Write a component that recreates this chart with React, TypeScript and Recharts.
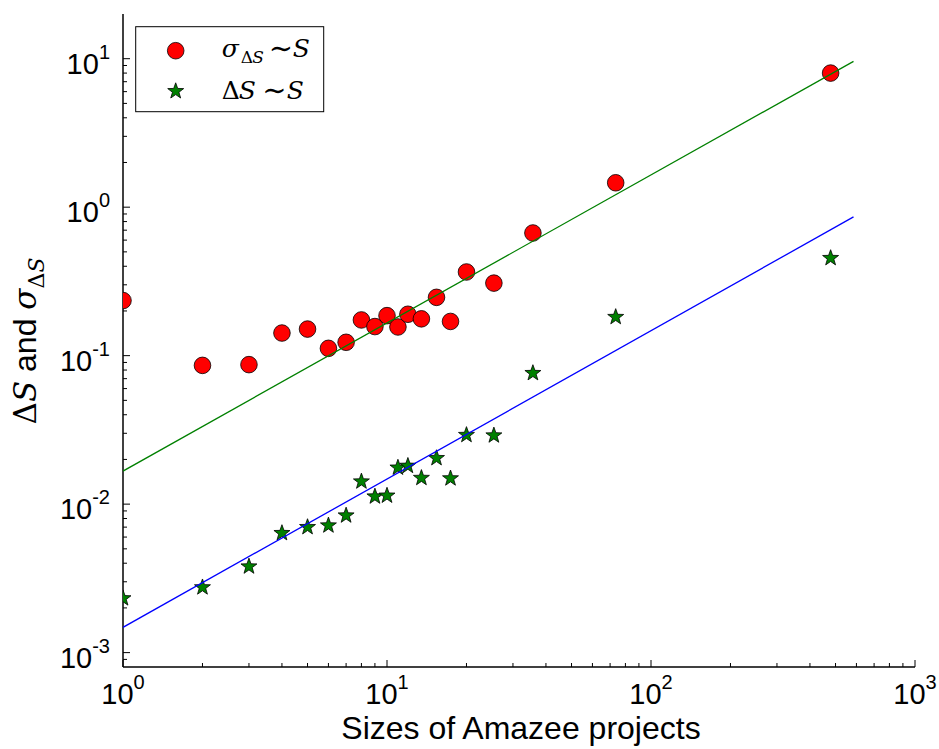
import { ComposedChart, Scatter, XAxis, YAxis } from 'recharts';

// project sizes (x) and the two measured quantities (y)
const sizes = [1, 2, 3, 4, 5, 6, 7, 8, 9, 10, 11, 12, 13.5, 15.4, 17.4, 20, 25.4, 35.7, 73.5, 479];
const sigmaDeltaS = [0.235, 0.086, 0.087, 0.142, 0.151, 0.112, 0.123, 0.174, 0.157, 0.186, 0.156, 0.19, 0.177, 0.247, 0.17, 0.366, 0.308, 0.67, 1.46, 8.0];
const deltaS = [0.00232, 0.00275, 0.0038, 0.00638, 0.007, 0.00718, 0.00838, 0.0142, 0.01125, 0.0114, 0.0176, 0.0181, 0.015, 0.0204, 0.0149, 0.0292, 0.029, 0.0763, 0.182, 0.454];

// fitted lines ~ S
const fitX = [1, 585];
const sigmaFit = [0.0167, 9.6];
const deltaFit = [0.00148, 0.86];

const xDecades = [1, 10, 100];
const yDecades = [0.0001, 0.001, 0.01, 0.1, 1, 10];
const mults = [1, 2, 3, 4, 5, 6, 7, 8, 9];

const X_DOMAIN: [number, number] = [1, 1000];
const Y_DOMAIN: [number, number] = [0.0008, 20];

const xTicks = [...xDecades.flatMap((d) => mults.map((m) => +(d * m).toPrecision(6))), 1000];
const yTicks = yDecades
  .flatMap((d) => mults.map((m) => +(d * m).toPrecision(6)))
  .filter((v) => v > Y_DOMAIN[0] && v < Y_DOMAIN[1]);

const sigmaData = sizes.map((s, i) => ({ x: s, y: sigmaDeltaS[i] }));
const deltaData = sizes.map((s, i) => ({ x: s, y: deltaS[i] }));
const sigmaFitData = fitX.map((s, i) => ({ x: s, y: sigmaFit[i] }));
const deltaFitData = fitX.map((s, i) => ({ x: s, y: deltaFit[i] }));

const sans = { fontFamily: 'Liberation Sans, Arial, sans-serif' };
const serif = { fontFamily: 'DejaVu Serif, serif' };
const serifIt = { fontFamily: 'DejaVu Serif, serif', fontStyle: 'italic' as const };

const RED = '#ff0000';
const GREEN = '#008000';
const BLUE = '#0000ff';

const exponent = (v: number) => Math.round(Math.log10(v));
const isMajor = (v: number) => Math.abs(Math.log10(v) - exponent(v)) < 1e-6;
const fmtExp = (v: number) => {
  const e = exponent(v);
  return e < 0 ? `-${-e}` : `${e}`;
};

function starPath(cx: number, cy: number, R: number, r: number) {
  let d = '';
  for (let i = 0; i < 10; i++) {
    const rad = i % 2 === 0 ? R : r;
    const a = -Math.PI / 2 + (i * Math.PI) / 5;
    d += `${i === 0 ? 'M' : 'L'}${(cx + rad * Math.cos(a)).toFixed(2)},${(cy + rad * Math.sin(a)).toFixed(2)}`;
  }
  return d + 'Z';
}

const Circle = ({ cx, cy }: any) => <circle cx={cx} cy={cy} r={8.3} fill={RED} stroke="#000" strokeWidth={0.8} />;
const Star = ({ cx, cy }: any) => <path d={starPath(cx, cy, 8.4, 3.4)} fill={GREEN} stroke="#000" strokeWidth={0.8} />;
const NoDot = () => <g />;

function BottomTick({ x, y, payload }: any) {
  const v = payload.value;
  const major = isMajor(v);
  return (
    <g>
      <line x1={x} x2={x} y1={y} y2={y - (major ? 7 : 4)} stroke="#000" strokeWidth={1} />
      {major && (
        <text x={x} y={y + 37} textAnchor="middle" style={sans} fontSize={29} fill="#000">
          10<tspan fontSize={20} dy={-15}>{fmtExp(v)}</tspan>
        </text>
      )}
    </g>
  );
}

function TopTick({ x, y, payload }: any) {
  const major = isMajor(payload.value);
  return <line x1={x} x2={x} y1={y} y2={y + (major ? 7 : 4)} stroke="#000" strokeWidth={1} />;
}

function LeftTick({ x, y, payload }: any) {
  const v = payload.value;
  const major = isMajor(v);
  return (
    <g>
      <line x1={x} x2={x + (major ? 7 : 4)} y1={y} y2={y} stroke="#000" strokeWidth={1} />
      {major && (
        <text x={x - 13} y={y + 15} textAnchor="end" style={sans} fontSize={29} fill="#000">
          10<tspan fontSize={20} dy={-15}>{fmtExp(v)}</tspan>
        </text>
      )}
    </g>
  );
}

function RightTick({ x, y, payload }: any) {
  const major = isMajor(payload.value);
  return <line x1={x} x2={x - (major ? 7 : 4)} y1={y} y2={y} stroke="#000" strokeWidth={1} />;
}

function LegendBox() {
  return (
    <g transform="translate(135.7,26.7)">
      <rect x={0} y={0} width={188} height={85} fill="#fff" stroke="#000" strokeWidth={1} />
      <Circle cx={40} cy={24} />
      <Star cx={40} cy={64.5} />
      <text fontSize={25} fill="#000">
        <tspan x={86} y={30} style={serifIt}>σ</tspan>
        <tspan x={105} y={36} fontSize={17} style={serif}>Δ</tspan>
        <tspan x={116.5} y={36} fontSize={17} style={serifIt}>S</tspan>
        <tspan x={133} y={31} fontSize={29} style={serif}>∼</tspan>
        <tspan x={157} y={30} style={serifIt}>S</tspan>
      </text>
      <text fontSize={25} fill="#000">
        <tspan x={86} y={72.6} style={serif}>Δ</tspan>
        <tspan x={103} y={72.6} style={serifIt}>S</tspan>
        <tspan x={126.5} y={73.6} fontSize={29} style={serif}>∼</tspan>
        <tspan x={151} y={72.6} style={serifIt}>S</tspan>
      </text>
    </g>
  );
}

export default function App() {
  return (
    <div style={{ position: 'absolute', left: 0, top: 0, width: 939, height: 749, background: '#fff' }}>
      <ComposedChart width={939} height={749} margin={{ top: 14, right: 24, bottom: 0, left: 0 }}>
        <XAxis
          xAxisId={0}
          type="number"
          dataKey="x"
          scale="log"
          domain={X_DOMAIN}
          allowDataOverflow
          ticks={xTicks}
          interval={0}
          height={82}
          tickSize={0}
          tickMargin={0}
          tickLine={false}
          tick={<BottomTick />}
          axisLine={{ stroke: '#000', strokeWidth: 1.5 }}
        />
        <XAxis
          xAxisId="top"
          orientation="top"
          type="number"
          dataKey="x"
          scale="log"
          domain={X_DOMAIN}
          allowDataOverflow
          ticks={xTicks}
          interval={0}
          height={0}
          tickSize={0}
          tickMargin={0}
          tickLine={false}
          tick={<TopTick />}
          axisLine={{ stroke: '#000', strokeWidth: 1.5 }}
        />
        <YAxis
          yAxisId={0}
          type="number"
          dataKey="y"
          scale="log"
          domain={Y_DOMAIN}
          allowDataOverflow
          ticks={yTicks}
          interval={0}
          width={123}
          tickSize={0}
          tickMargin={0}
          tickLine={false}
          tick={<LeftTick />}
          axisLine={{ stroke: '#000', strokeWidth: 1.5 }}
        />
        <YAxis
          yAxisId="right"
          orientation="right"
          type="number"
          dataKey="y"
          scale="log"
          domain={Y_DOMAIN}
          allowDataOverflow
          ticks={yTicks}
          interval={0}
          width={0}
          tickSize={0}
          tickMargin={0}
          tickLine={false}
          tick={<RightTick />}
          axisLine={{ stroke: '#000', strokeWidth: 1.5 }}
        />

        <Scatter name="sigma" data={sigmaData} shape={<Circle />} isAnimationActive={false} />
        <Scatter name="delta" data={deltaData} shape={<Star />} isAnimationActive={false} />
        <Scatter
          name="sigmaFit"
          data={sigmaFitData}
          shape={<NoDot />}
          line={{ stroke: GREEN, strokeWidth: 1.3 }}
          isAnimationActive={false}
        />
        <Scatter
          name="deltaFit"
          data={deltaFitData}
          shape={<NoDot />}
          line={{ stroke: BLUE, strokeWidth: 1.3 }}
          isAnimationActive={false}
        />

        <LegendBox />

        <text x={521} y={739} textAnchor="middle" style={sans} fontSize={32} fill="#000">
          Sizes of Amazee projects
        </text>
        <text transform="translate(36,341) rotate(-90)" textAnchor="middle" fill="#000" fontSize={31}>
          <tspan style={serif}>Δ</tspan>
          <tspan style={serifIt}>S</tspan>
          <tspan style={sans} fontSize={32}> and </tspan>
          <tspan style={serifIt}>σ</tspan>
          <tspan style={serif} fontSize={22} dy={8}>Δ</tspan>
          <tspan style={serifIt} fontSize={22}>S</tspan>
        </text>
      </ComposedChart>
    </div>
  );
}
